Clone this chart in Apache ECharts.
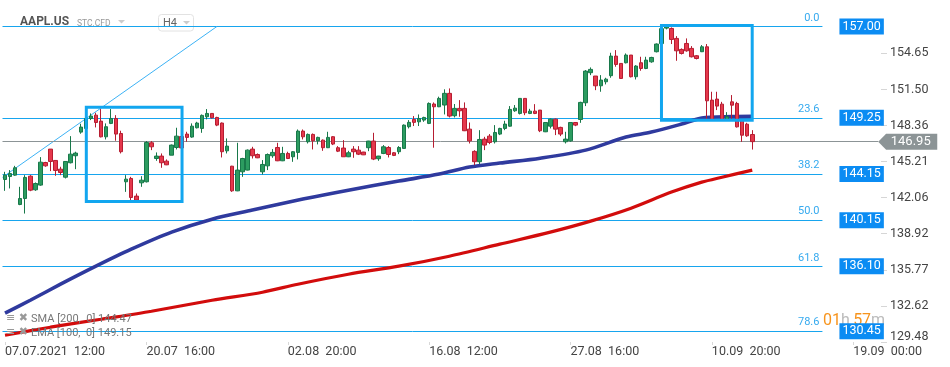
<!DOCTYPE html>
<html><head><meta charset="utf-8">
<script src="https://cdn.jsdelivr.net/npm/echarts@6/dist/echarts.min.js"></script>
<style>html,body{margin:0;padding:0;background:#fff}#c{width:950px;height:367px}</style>
</head><body><div id="c"></div>
<script>
// ---- data (H4 candles, index 0 = 07.07.2021 12:00) ----
const opens = [143.65,143.91,144.03,141.47,141.99,143.94,142.75,143.16,145.13,146.30,145.31,144.55,143.85,145.11,145.72,147.78,148.10,148.97,149.26,148.74,
147.37,148.54,148.97,147.66,143.45,143.74,142.20,143.36,143.45,146.85,145.48,145.69,145.25,145.77,146.44,147.40,147.61,147.35,148.16,148.10,
149.12,149.41,149.06,148.57,146.15,144.81,142.66,144.32,144.47,146.30,145.83,144.32,144.84,145.72,146.44,145.28,145.92,145.63,146.01,147.87,
146.94,147.58,147.03,147.08,146.42,147.38,146.42,146.39,145.63,146.30,146.21,146.04,146.42,147.00,145.46,145.92,146.44,145.98,146.07,146.36,
148.25,148.89,148.68,148.83,148.54,150.23,149.99,150.14,151.16,149.21,149.85,149.85,148.04,146.10,145.20,147.17,147.43,146.94,147.61,148.10,
148.30,149.64,149.41,150.72,149.41,149.61,149.70,147.81,148.30,148.91,148.19,146.94,147.02,148.62,148.88,150.34,152.96,152.67,151.82,152.17,
152.70,154.41,153.77,153.83,154.50,152.61,153.83,153.33,153.91,154.79,155.50,156.85,156.82,155.95,154.99,155.51,155.08,154.44,154.79,155.22,
150.57,150.66,150.22,148.88,150.42,150.28,148.82,148.47,147.57];
const closes = [144.03,144.17,144.67,141.99,143.83,142.72,143.30,145.16,144.84,145.22,144.44,144.26,145.22,145.86,145.95,148.22,148.97,149.18,148.62,147.37,
148.25,148.97,147.61,146.07,143.68,142.08,141.85,143.59,146.88,146.50,145.69,145.11,144.93,146.65,147.43,146.40,147.32,148.30,148.57,149.24,
149.41,149.03,148.39,146.07,146.56,142.66,144.47,145.48,146.21,145.72,145.54,144.96,145.83,146.01,145.28,145.92,145.48,146.07,147.87,147.37,
147.58,147.03,147.32,146.42,147.32,146.74,146.12,145.63,145.98,146.07,145.86,145.80,147.00,145.43,145.69,146.50,145.83,145.75,146.44,148.39,
148.63,148.63,148.97,149.06,150.28,149.99,150.72,151.16,149.18,149.85,149.64,147.90,147.02,145.20,147.14,146.65,146.88,147.75,148.10,148.48,
149.76,149.87,150.72,149.47,149.61,149.41,147.90,148.62,148.91,148.04,147.61,147.17,148.62,148.39,150.37,153.10,153.25,151.82,152.32,152.40,
154.41,153.68,152.46,154.50,152.61,153.54,153.33,154.06,154.29,155.46,156.80,156.98,155.86,154.87,154.64,154.87,154.35,154.20,155.22,150.51,
148.82,150.05,148.82,149.12,150.13,148.24,147.51,147.46,146.95];
const highs = [144.32,144.47,144.84,143.01,144.03,144.03,143.39,145.60,145.19,146.30,145.31,144.76,145.22,147.43,146.07,148.51,149.21,149.41,149.47,149.79,
148.54,149.79,149.26,147.90,144.03,143.88,142.43,143.94,147.00,147.00,146.01,145.92,145.40,146.70,148.16,147.60,147.81,148.54,148.68,149.32,
149.79,149.41,149.12,148.62,147.23,144.84,146.85,145.54,146.27,146.50,145.92,145.34,145.92,146.30,146.85,146.50,146.07,146.12,148.01,148.01,
147.66,147.66,147.38,147.14,147.81,147.43,146.56,147.08,146.15,146.56,146.56,146.06,147.02,147.72,145.71,146.65,146.56,146.04,146.56,148.45,
148.83,149.18,149.32,149.12,150.37,150.37,150.87,151.51,151.59,150.23,150.57,150.37,148.62,146.20,147.95,147.37,147.61,148.39,148.16,148.77,
150.05,150.14,150.75,150.75,149.81,150.22,149.70,148.62,148.97,148.97,148.25,147.81,148.62,148.62,150.43,153.19,153.42,152.67,152.75,152.52,
154.70,154.93,153.77,154.64,154.50,153.62,154.35,154.35,154.35,155.51,156.95,157.00,156.91,156.15,155.08,155.95,155.28,154.50,155.37,155.46,
151.30,151.30,150.42,149.52,151.01,150.42,148.82,148.59,147.95];
const lows = [142.66,142.87,143.97,141.41,140.68,142.63,142.66,143.10,144.76,144.38,143.97,144.03,143.74,145.05,144.55,147.64,148.01,148.83,148.19,147.32,
147.14,148.48,147.03,145.92,142.57,141.76,141.76,143.01,143.39,146.21,145.28,144.67,144.90,145.77,146.27,146.20,146.94,147.29,148.10,147.72,
148.89,148.97,148.30,145.57,145.92,142.57,142.63,143.88,144.44,145.48,145.51,144.09,144.47,145.54,145.25,145.25,145.43,145.19,145.40,147.14,
146.79,146.27,146.71,146.15,146.39,146.65,146.04,145.63,145.60,145.54,145.78,145.78,146.12,145.34,145.28,145.86,145.57,145.69,145.86,146.33,
148.10,148.31,148.31,148.68,148.48,146.42,149.96,149.32,149.06,149.06,149.12,147.87,146.79,144.90,145.00,146.21,146.73,146.79,147.52,147.95,
148.25,149.55,149.32,149.26,149.35,149.35,147.78,147.78,148.10,147.52,147.43,146.79,146.94,148.30,148.59,150.05,152.75,151.44,151.30,151.94,
152.52,153.48,152.43,153.77,152.55,152.37,153.13,153.27,153.83,154.73,155.30,156.74,155.46,154.00,154.55,154.79,154.29,154.12,154.76,148.77,
148.77,149.70,148.77,148.82,148.82,148.18,146.93,147.37,146.26];
const xTickLabels = ['07.07.2021  12:00','20.07  16:00','02.08  20:00','16.08  12:00','27.08  16:00','10.09  20:00','19.09  00:00'];
const xTickStep = 28;          // candles between date labels
const slotCount = 174;         // candle slots on the time axis (incl. future)
const yTickLabels = ['129.48','132.62','135.77','138.92','142.06','145.21','148.36','151.50','154.65'];
const yMin = 129.48, yMax = 159.30;
// [candle index, value]
const emaLine = [[0,131.99],[5,133.12],[11,134.52],[18,136.09],[25,137.57],[33,139.06],[41,140.19],[49,140.98],[59,141.94],[68,142.72],[78,143.51],
[86,144.12],[92,144.73],[98,145.08],[106,145.51],[115,146.21],[123,147.35],[128,147.78],[134,148.48],[138,149.00],[144,149.13],[148,149.15]];
const smaLine = [[0,130.07],[9,130.77],[19,131.46],[29,132.16],[41,133.12],[51,133.82],[58,134.52],[68,135.39],[78,136.09],[88,136.96],[98,138.01],
[108,139.06],[116,140.02],[124,141.15],[132,142.55],[138,143.42],[142,143.85],[148,144.47]];
const fibLevels = ['0.0','23.6','38.2','50.0','61.8','78.6'];
const fibPrices = [157.00,149.03,144.12,140.10,136.08,130.42];
const fibTags = ['157.00','149.25','144.15','140.15','136.10','130.45'];
const fibEndIndex = 161.9;
const lastPrice = 146.95, lastPriceText = '146.95';
const priceLineEnd = 172.95;
const trendLine = [[-0.5,143.84],[42,157.00]];
const boxes = [[[16.1,149.94],[35.06,141.73]],[[130.02,157.07],[147.99,148.81]]];
const legendTexts = ['SMA [200,  0] 144.47','EMA [100,  0] 149.15'];

// ---- chart ----
const cats = Array.from({length: slotCount}, (_, i) => i);
const candles = opens.map((o, i) => [o, closes[i], lows[i], highs[i]]);
const yTicks = yTickLabels.map(parseFloat);
const FONT = 'Roboto, "Noto Sans", sans-serif';

const fibLineData = fibPrices.map((p, k) => [
  {coord: [-0.5, p], label: {show: true, position: 'insideEndTop', formatter: fibLevels[k], color: '#36aaef', fontSize: 11, distance: 3, fontFamily: FONT}},
  {coord: [fibEndIndex, p]}
]);
const fibTagData = fibPrices.map((p, k) => [
  {coord: [-0.5, p], label: {show: true, position: 'end', distance: 17, formatter: fibTags[k], color: '#fff', backgroundColor: '#0b8cf3',
    padding: [2, 3, 1, 3], fontSize: 12.5, fontFamily: FONT}},
  {coord: [fibEndIndex, p]}
]);

const chart = echarts.init(document.getElementById('c'));
chart.setOption({
  animation: false,
  textStyle: {fontFamily: FONT},
  grid: {left: 2.5, right: 69, top: 0, bottom: 25, containLabel: false},
  xAxis: [{
    type: 'category', data: cats, boundaryGap: true,
    axisLine: {show: false, onZero: false},
    axisTick: {show: true, interval: (i) => i % xTickStep === 0, alignWithLabel: true, length: 3, lineStyle: {color: '#d8d8d8'}},
    axisLabel: {interval: (i) => i % xTickStep === 0, formatter: (v, i) => xTickLabels[Math.round(i / xTickStep)] || '',
      align: 'left', margin: 3, color: '#444', fontSize: 12.5, fontFamily: FONT},
    splitLine: {show: false}
  }, {
    type: 'value', min: -0.5, max: slotCount - 0.5, show: false,
    axisLine: {show: false, onZero: false}, axisTick: {show: false}, axisLabel: {show: false}, splitLine: {show: false}
  }],
  yAxis: {
    type: 'value', position: 'right', min: yMin, max: yMax,
    splitLine: {show: false}, splitArea: {show: false}, minorTick: {show: false}, minorSplitLine: {show: false},
    axisLine: {show: false, onZero: false},
    axisTick: {show: true, length: 6, customValues: yTicks, lineStyle: {color: '#d6d6d6'}},
    axisLabel: {customValues: yTicks, margin: 9, color: '#444', fontSize: 12.5, fontFamily: FONT,
      formatter: (v) => {
        let k = 0, best = 1e9;
        yTicks.forEach((t, j) => { if (Math.abs(t - v) < best) { best = Math.abs(t - v); k = j; } });
        return k === 0 ? '{lift|' + yTickLabels[k] + '}' : yTickLabels[k];
      },
      rich: {
        lift: {padding: [0, 0, 11, 0], color: '#444', fontSize: 12.5, fontFamily: FONT}
      }
    }
  },
  series: [
    {
      type: 'line', xAxisIndex: 1, data: [], z: 1, silent: true,
      markLine: {symbol: ['none', 'none'], silent: true, z: 1, animation: false,
        lineStyle: {color: '#17a5ee', width: 1, type: 'solid'},
        data: fibLineData.concat([
          [{coord: trendLine[0], lineStyle: {color: '#3cb2f5', width: 1}, label: {show: false}}, {coord: trendLine[1]}],
          [{coord: [-0.5, lastPrice], lineStyle: {color: '#8c9496', width: 1}, label: {show: false}}, {coord: [priceLineEnd, lastPrice]}]
        ])
      }
    },
    {
      type: 'line', xAxisIndex: 1, data: smaLine, showSymbol: false, smooth: 0.3, z: 2, silent: true,
      lineStyle: {color: '#d20c0c', width: 3.2}
    },
    {
      type: 'line', xAxisIndex: 1, data: emaLine, showSymbol: false, smooth: 0.3, z: 2, silent: true,
      lineStyle: {color: '#2f3a9e', width: 3.6}
    },
    {
      type: 'candlestick', xAxisIndex: 0, data: candles, barWidth: 4, z: 3, silent: true,
      itemStyle: {color: '#2c9c60', color0: '#e5384c', borderColor: '#18784a', borderColor0: '#b61d31', borderWidth: 1}
    },
    {
      type: 'line', xAxisIndex: 1, data: [], z: 10, silent: true,
      markArea: {silent: true, z: 10,
        itemStyle: {color: 'rgba(0,0,0,0)', borderColor: '#12a6ef', borderWidth: 3},
        data: boxes.map(b => [{coord: b[0]}, {coord: b[1]}])
      },
      markLine: {symbol: ['none', 'none'], silent: true, z: 12,
        lineStyle: {color: 'rgba(0,0,0,0)', width: 0},
        data: fibTagData
      },
      markPoint: {silent: true, z: 12,
        data: [{coord: [priceLineEnd, lastPrice], symbol: 'path://M0,8 L8,0 L60,0 L60,16 L8,16 Z', symbolSize: [59, 16],
          symbolOffset: [29.5, 0],
          itemStyle: {color: '#8c9496'},
          label: {show: true, position: 'inside', formatter: lastPriceText, color: '#fff', fontSize: 13, offset: [3, 0], fontFamily: FONT}}]
      }
    }
  ],
  graphic: [
    {type: 'text', left: 20, top: 16, z: 0, style: {text: 'AAPL.US', font: 'bold 12px ' + FONT, fill: '#555'}},
    {type: 'text', left: 77, top: 19, z: 0, style: {text: 'STC.CFD', font: '8.5px ' + FONT, fill: '#999'}},
    {type: 'polygon', z: 0, shape: {points: [[118, 20], [125, 20], [121.5, 23.5]]}, style: {fill: '#ccc'}},
    {type: 'rect', z: 0, shape: {x: 158.5, y: 14.5, width: 35, height: 16.5, r: 3}, style: {fill: '#fff', stroke: '#e2e2e2', lineWidth: 1}},
    {type: 'text', left: 163, top: 17.5, z: 1, style: {text: 'H4', font: '11px ' + FONT, fill: '#666'}},
    {type: 'polygon', z: 1, shape: {points: [[183, 21], [190, 21], [186.5, 24.5]]}, style: {fill: '#ccc'}},
    {type: 'text', left: 6, top: 313, z: 20, style: {text: '≡ ✖', font: '11px "DejaVu Sans", sans-serif', fill: '#999'}},
    {type: 'text', left: 31, top: 314, z: 20, style: {text: legendTexts[0], font: '11px ' + FONT, fill: '#777'}},
    {type: 'text', left: 6, top: 327, z: 20, style: {text: '≡ ✖', font: '11px "DejaVu Sans", sans-serif', fill: '#999'}},
    {type: 'text', left: 31, top: 328, z: 20, style: {text: legendTexts[1], font: '11px ' + FONT, fill: '#777'}},
    {type: 'text', left: 823, top: 313, z: 11, style: {text: '{o|01}{g|h} {o|57}{g|m}', rich: {
      o: {fill: '#f7941d', font: '16px ' + FONT}, g: {fill: '#bbb', font: '16px ' + FONT}}}}
  ]
});
</script>
</body></html>
